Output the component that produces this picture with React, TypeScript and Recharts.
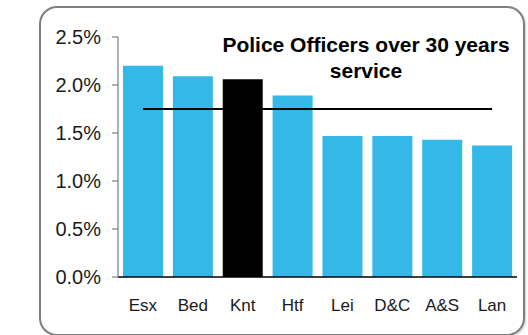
import React from 'react';
import { ComposedChart, Bar, Line, Cell, XAxis, YAxis } from 'recharts';

// forces, share of officers over 30 years service (%)
const forces = ['Esx', 'Bed', 'Knt', 'Htf', 'Lei', 'D&C', 'A&S', 'Lan'];
const values = [2.2, 2.09, 2.06, 1.89, 1.47, 1.47, 1.43, 1.37];
const average = [1.75, 1.75, 1.75, 1.75, 1.75, 1.75, 1.75, 1.75];
const yTicks = [0, 0.5, 1.0, 1.5, 2.0, 2.5];
const highlight = 'Knt';

const chartData = forces.map((force, i) => ({
  force,
  value: values[i],
  avg: average[i],
}));

const App: React.FC = () => {
  return (
    <div style={{ position: 'absolute', left: 0, top: 0, width: 528, height: 335, overflow: 'hidden', background: '#fff', fontFamily: '"Liberation Sans", Arial, sans-serif' }}>
      {/* rounded frame, bottom edge just at the image border */}
      <div
        style={{
          position: 'absolute',
          left: 39,
          top: 6,
          width: 482,
          height: 326,
          border: '2px solid #7f7f7f',
          borderRadius: 18,
          boxShadow: '1px 1px 2px rgba(0,0,0,0.2)',
        }}
      />
      <div style={{ position: 'absolute', left: 0, top: 0 }}>
        <ComposedChart
          width={528}
          height={335}
          data={chartData}
          margin={{ top: 37, right: 11, left: 58, bottom: 28 }}
          barCategoryGap="10%"
        >
          <XAxis
            dataKey="force"
            tickLine={false}
            tickSize={0}
            tickMargin={22}
            axisLine={{ stroke: '#000', strokeWidth: 1.5 }}
            tick={{ fill: '#1a1a1a', fontSize: 17 }}
            interval={0}
            height={30}
          />
          <YAxis
            domain={[0, 2.5]}
            ticks={yTicks}
            width={60}
            tickSize={6}
            tickMargin={11}
            tickFormatter={(v: number) => v.toFixed(1) + '%'}
            axisLine={{ stroke: '#666' }}
            tickLine={{ stroke: '#666' }}
            tick={{ fill: '#1a1a1a', fontSize: 20 }}
          />
          <Bar dataKey="value" isAnimationActive={false}>
            {chartData.map((entry, index) => (
              <Cell key={`cell-${index}`} fill={entry.force === highlight ? '#000000' : '#33b8e8'} />
            ))}
          </Bar>
          <Line
            dataKey="avg"
            type="linear"
            stroke="#000"
            strokeWidth={2}
            dot={false}
            activeDot={false}
            isAnimationActive={false}
          />
        </ComposedChart>
      </div>
      {/* title */}
      <div
        style={{
          position: 'absolute',
          left: 206,
          width: 320,
          top: 32,
          textAlign: 'center',
          fontWeight: 'bold',
          fontSize: 21,
          lineHeight: '26px',
          color: '#000',
          pointerEvents: 'none',
        }}
      >
        Police Officers over 30 years
        <br />
        service
      </div>
    </div>
  );
};

export default App;
